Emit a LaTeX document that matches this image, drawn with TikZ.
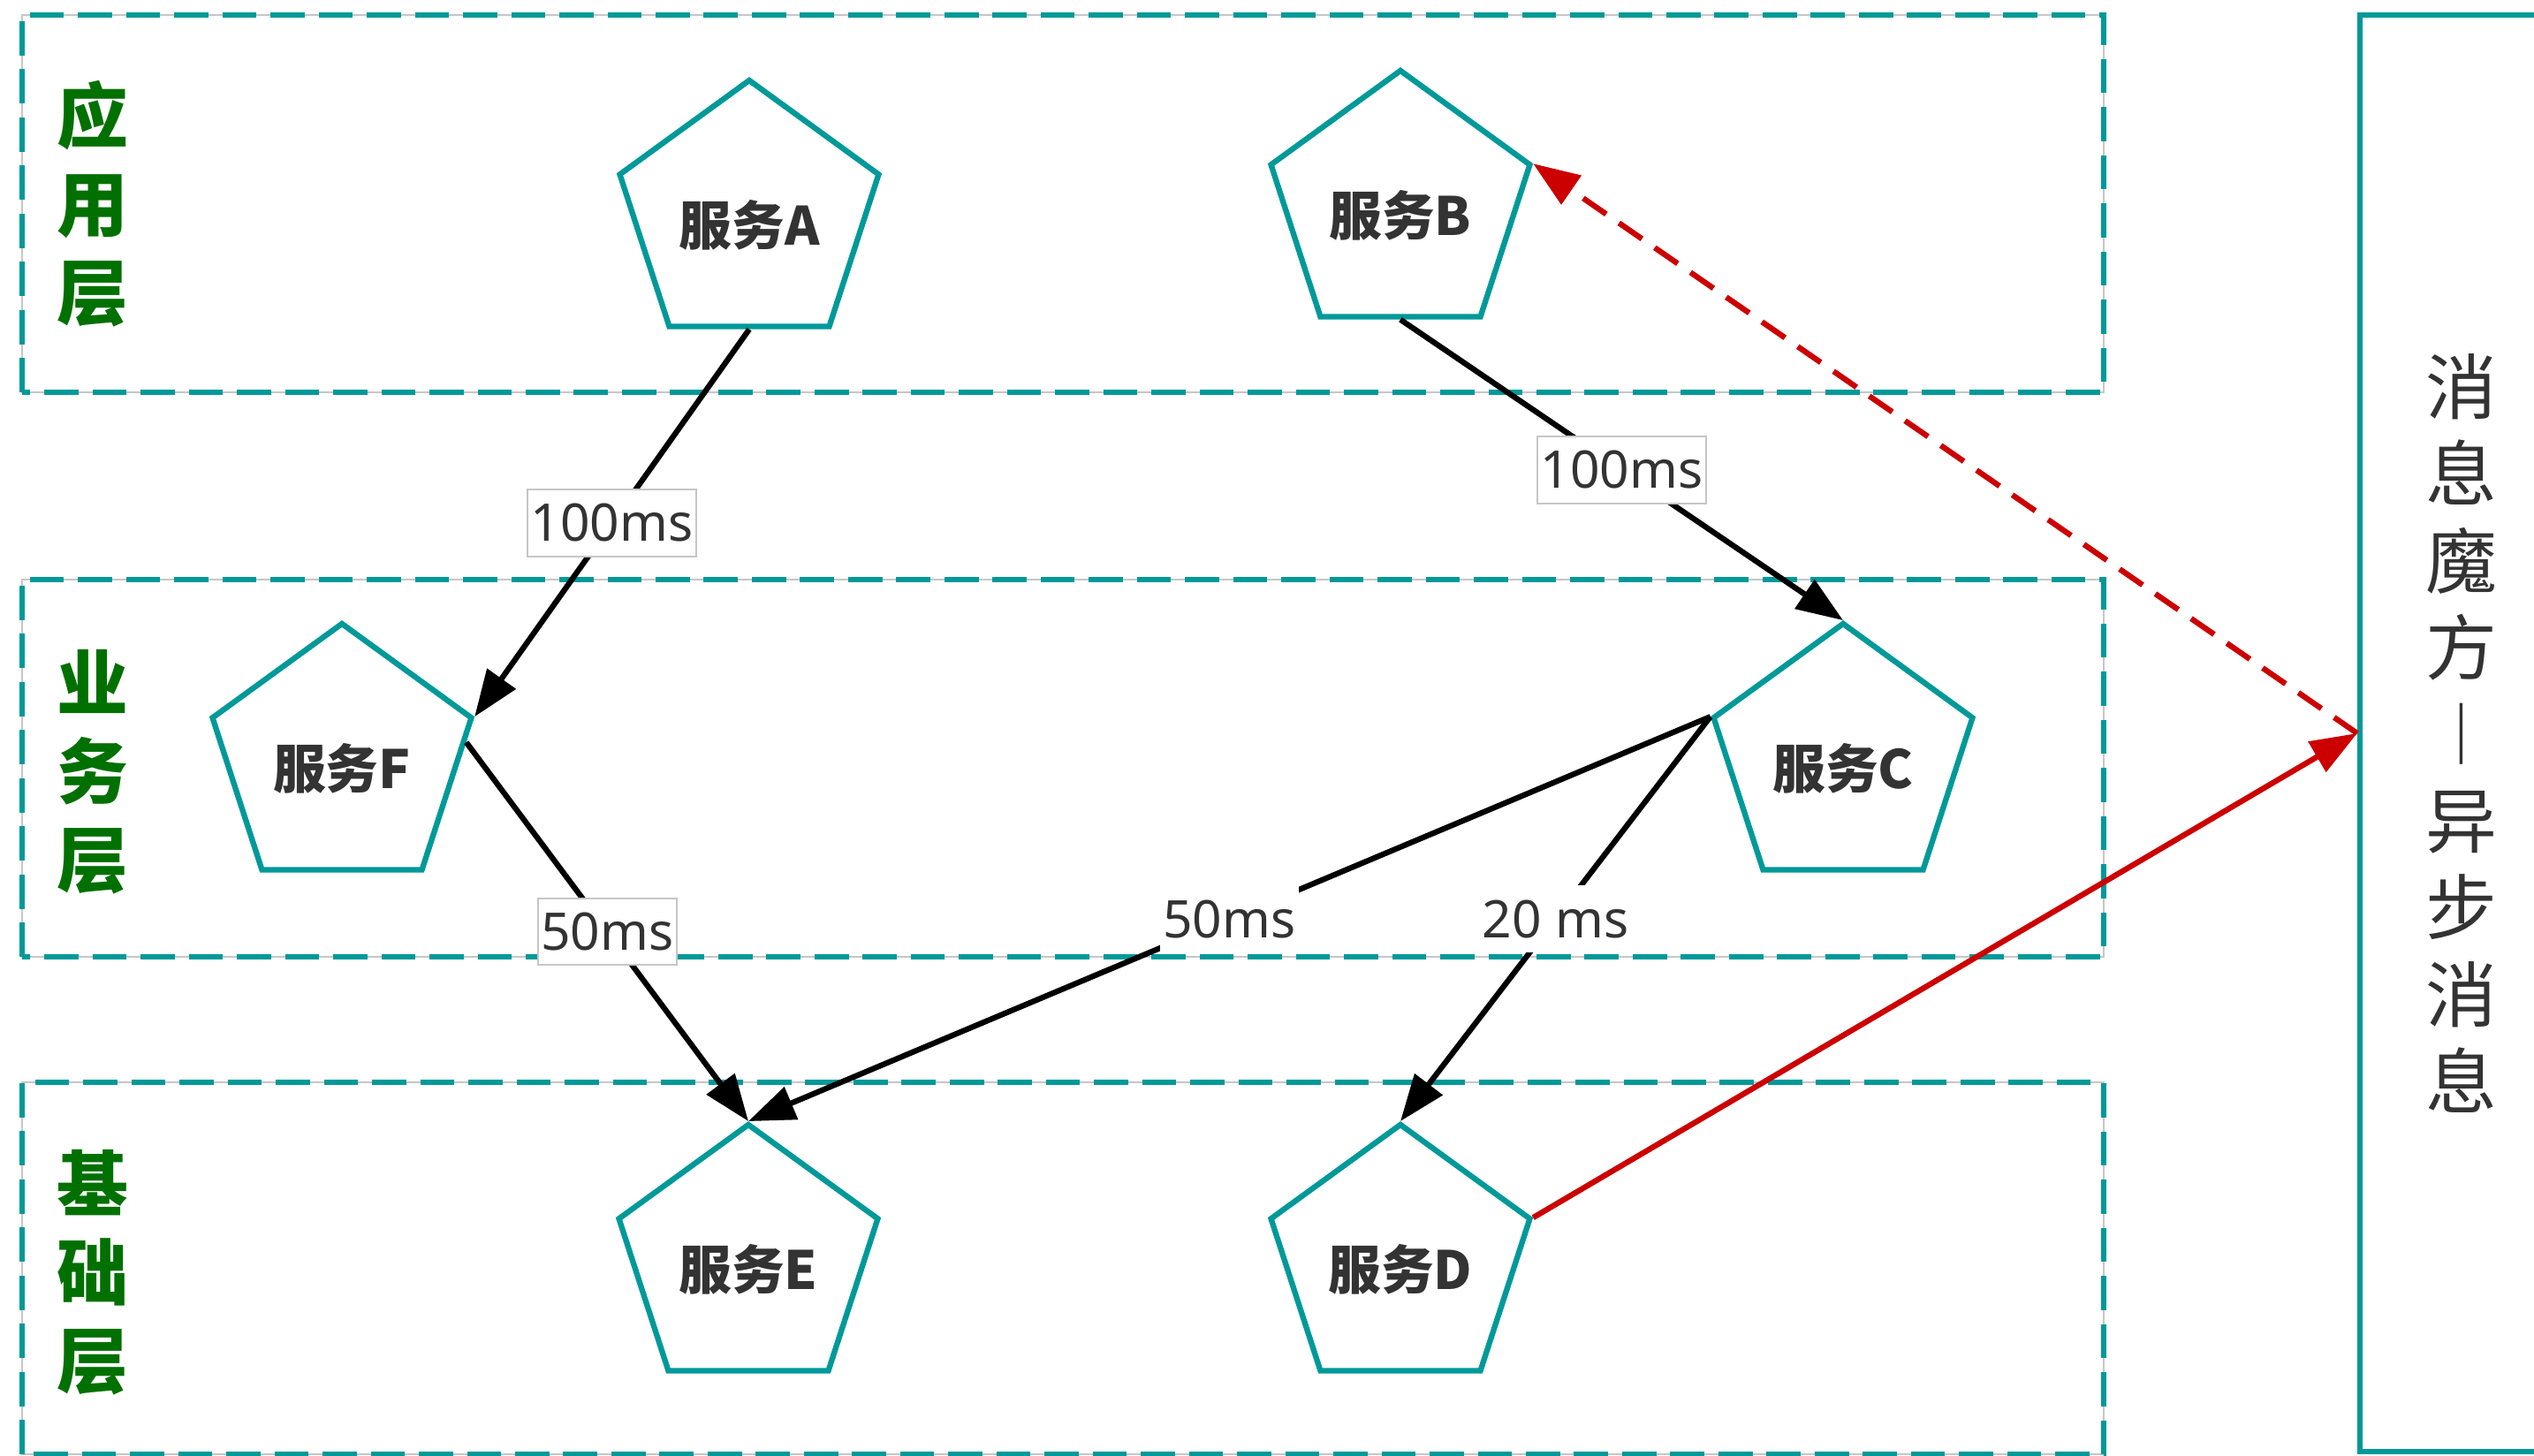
\documentclass[tikz,border=0pt]{standalone}
\usepackage{fontspec}
\setmainfont{Noto Sans}
\newfontfamily\cjk{Noto Sans CJK SC}
\usepackage{tikz}
\usetikzlibrary{arrows.meta,shapes.geometric}
\definecolor{tealline}{RGB}{0,153,153}
\definecolor{layergreen}{RGB}{0,112,0}
\definecolor{textgray}{RGB}{51,51,51}
\definecolor{asyncred}{RGB}{204,0,0}
\tikzset{
    service/.style={regular polygon,regular polygon sides=5,draw=tealline,line width=1.8pt,
        minimum size=3.08cm,inner sep=0pt,text=textgray,text height=20.7pt,text depth=2pt,
        font=\cjk\bfseries\fontsize{17}{20}\selectfont},
    layer box/.style={draw=tealline,line width=1.7pt,dash pattern=on 11pt off 4.5pt},
    layer guide/.style={draw=gray!45,line width=0.5pt},
    layer name/.style={align=center,text=layergreen,font=\cjk\bfseries\fontsize{23}{28.4}\selectfont},
    queue box/.style={draw=tealline,line width=1.8pt,align=center,text=textgray,
        font=\cjk\fontsize{23}{27.95}\selectfont},
    delay/.style={fill=white,inner xsep=1pt,inner ysep=4.6pt,text=textgray,font=\fontsize{16.7}{20}\selectfont},
    delay box/.style={delay,draw=gray!45,line width=0.6pt},
    arr/.style={-{Triangle[length=15pt,width=11pt]},line width=1.8pt},
    async/.style={arr,asyncred},
    async dashed/.style={async,dash pattern=on 9pt off 5pt},
}

\begin{document}
\begin{tikzpicture}
    \useasboundingbox (0,0) rectangle (28.68,16.48);
    \begin{scope}
        % three layers
        \foreach \ytop/\ybot in {16.31/12.04, 9.92/5.65, 4.23/0.02} {
            \draw[layer guide] (0.25,\ybot) rectangle (23.81,\ytop);
            \draw[layer box] (0.25,\ybot) rectangle (23.81,\ytop);
        }
        \node[layer name] (app) at (1.05,14.17) {应\\用\\层};
        \node[layer name] (biz) at (1.05,7.74) {业\\务\\层};
        \node[layer name] (base) at (1.05,2.08) {基\\础\\层};
    \end{scope}

    \node[queue box,minimum width=2.3cm,minimum height=16.26cm] (mq) at (27.86,8.18)
        {消\\息\\魔\\方\\︱\\异\\步\\消\\息};

    \node[service] (A) at (8.48,14.03) {服务A};
    \node[service] (B) at (15.85,14.14) {服务B};
    \node[service] (F) at (3.87,7.88) {服务F};
    \node[service] (C) at (20.86,7.88) {服务C};
    \node[service] (E) at (8.47,2.21) {服务E};
    \node[service] (D) at (15.85,2.21) {服务D};

    \draw[arr] (A.side 3) -- (F.corner 5) node[midway,delay box] (dAF) {100ms};
    \draw[arr] (B.side 3) -- (C.corner 1) node[midway,delay box] (dBC) {100ms};
    \draw[arr] (F.8) -- (E.corner 1) node[midway,delay box] (dFE) {50ms};
    \draw[arr] (C.corner 2) -- (E.corner 1) node[midway,delay] (dCE) {50ms};
    \draw[arr] (C.corner 2) -- (D.corner 1) node[midway,delay] (dCD) {20 ms};

    \draw[async] (D.corner 5) -- (mq.west);
    \draw[async dashed] (mq.west) -- (B.corner 5);
\end{tikzpicture}
\end{document}
